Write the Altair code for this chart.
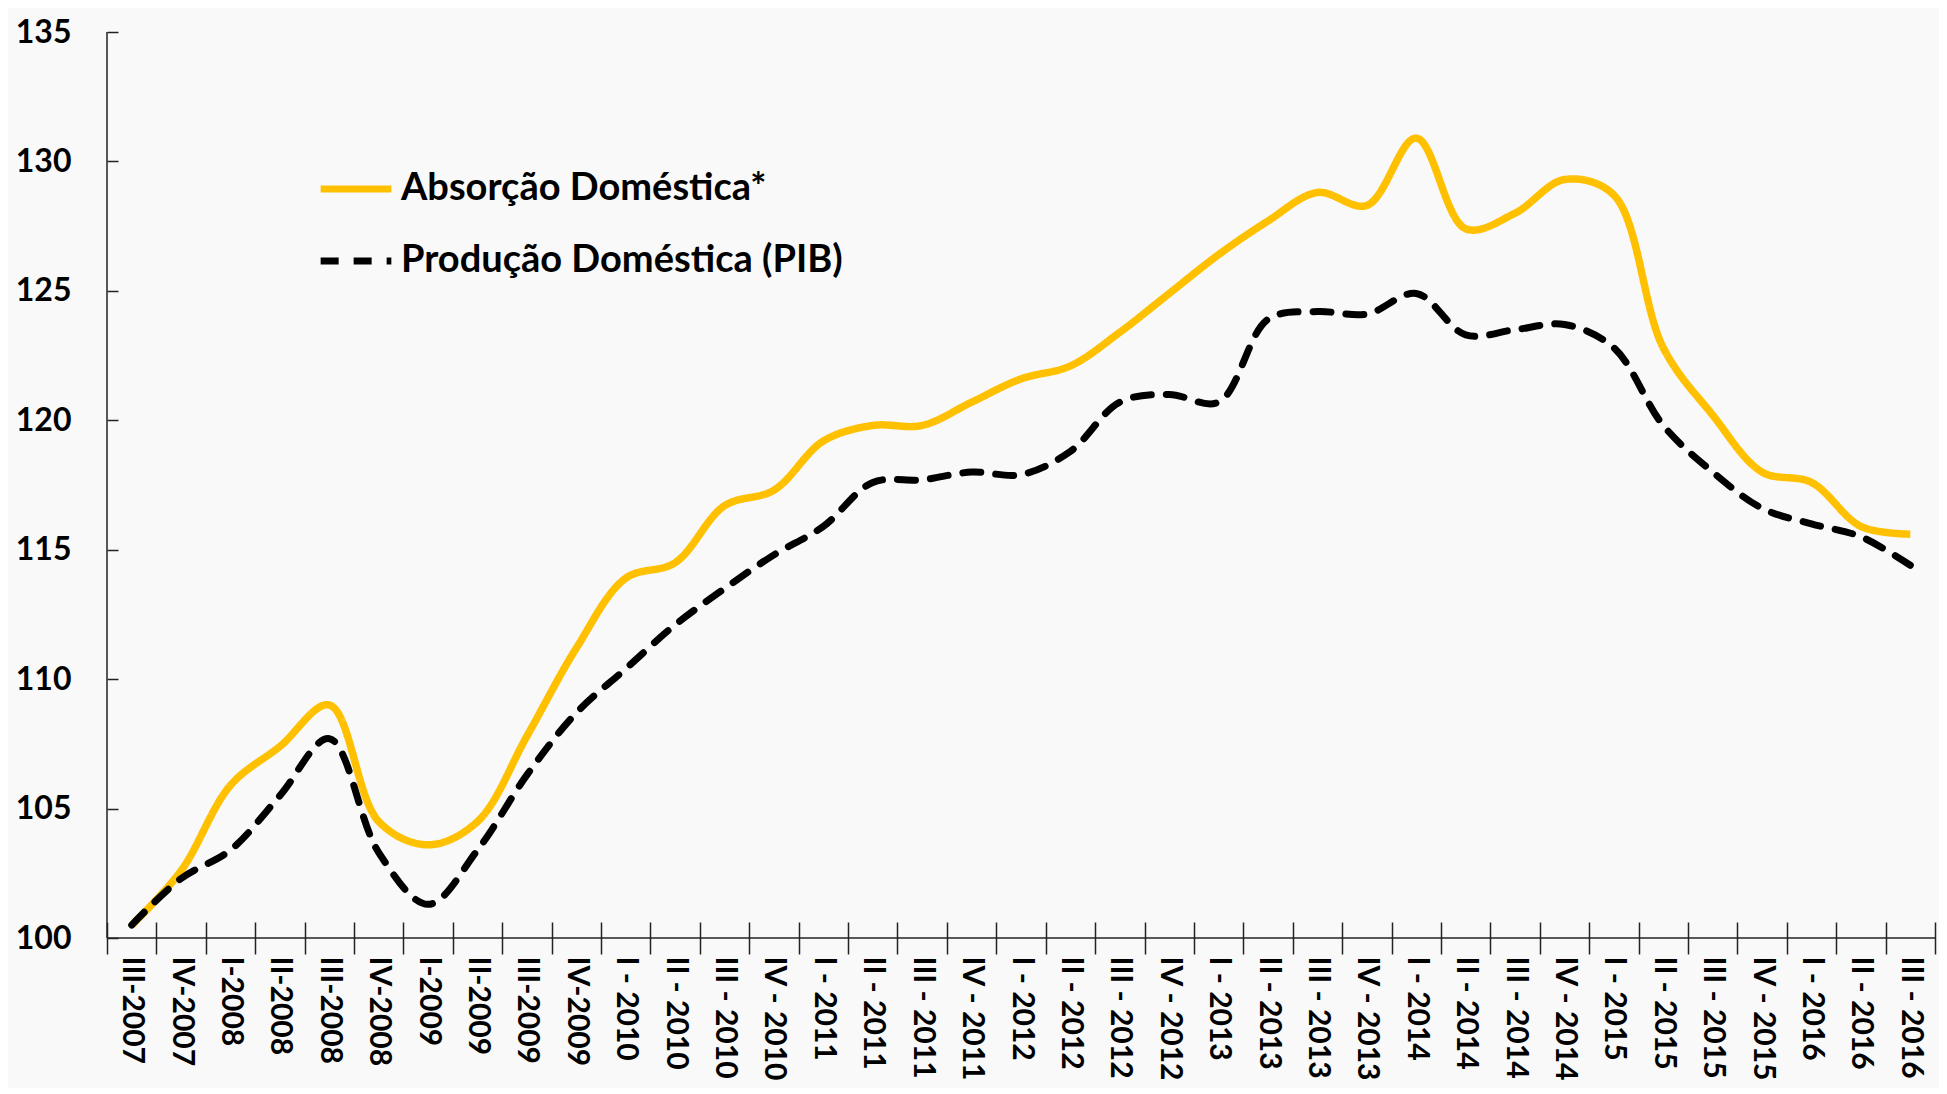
import altair as alt
import pandas as pd

cats = ["III-2007", "IV-2007", "I-2008", "II-2008", "III-2008", "IV-2008",
        "I-2009", "II-2009", "III-2009", "IV-2009",
        "I - 2010", "II - 2010", "III - 2010", "IV - 2010",
        "I - 2011", "II - 2011", "III - 2011", "IV - 2011",
        "I - 2012", "II - 2012", "III - 2012", "IV - 2012",
        "I - 2013", "II - 2013", "III - 2013", "IV - 2013",
        "I - 2014", "II - 2014", "III - 2014", "IV - 2014",
        "I - 2015", "II - 2015", "III - 2015", "IV - 2015",
        "I - 2016", "II - 2016", "III - 2016"]

absorcao = [100.5, 102.6, 105.9, 107.4, 109.0, 104.5, 103.6, 104.5, 107.8, 111.2,
            113.9, 114.5, 116.7, 117.3, 119.2, 119.8, 119.8, 120.7, 121.6, 122.1,
            123.4, 124.9, 126.4, 127.7, 128.8, 128.3, 130.9, 127.4, 128.0, 129.3,
            128.7, 122.8, 120.2, 118.0, 117.6, 115.9, 115.6]

pib = [100.5, 102.3, 103.4, 105.5, 107.7, 103.3, 101.3, 103.4, 106.3, 108.7,
       110.4, 112.1, 113.5, 114.8, 115.9, 117.6, 117.7, 118.0, 117.9, 118.8,
       120.7, 121.0, 120.7, 123.9, 124.2, 124.1, 124.9, 123.3, 123.5, 123.7,
       122.8, 119.8, 118.0, 116.6, 116.0, 115.5, 114.4]

series_names = ["Absorção Doméstica*", "Produção Doméstica (PIB)"]
y_ticks = [100, 105, 110, 115, 120, 125, 130, 135]

rows = []
for c, a, p in zip(cats, absorcao, pib):
    rows.append({"cat": c, "val": a, "serie": series_names[0]})
    rows.append({"cat": c, "val": p, "serie": series_names[1]})
df = pd.DataFrame(rows)

FONT = "Lato"

x_enc = alt.X("cat:N", sort=cats, bandPosition=0.5,
              scale=alt.Scale(type="band", paddingInner=0, paddingOuter=0),
              axis=alt.Axis(title=None, labelAngle=90, labelFont=FONT, labelFontSize=30,
                            labelFontWeight="bold", labelColor="black", domain=False,
                            ticks=True, tickBand="extent", tickSize=32, offset=-16,
                            tickColor="#222", tickWidth=1.5, labelPadding=2,
                            labelOverlap=False, grid=False))
y_enc = alt.Y("val:Q", scale=alt.Scale(domain=[100, 135], nice=False, zero=False),
              axis=alt.Axis(title=None, values=y_ticks, labelFont=FONT, labelFontSize=32,
                            labelFontWeight="bold", labelColor="black", domain=False,
                            tickSize=11, offset=-11, tickColor="#222", tickWidth=1.5,
                            labelPadding=36, grid=False))
legend_cfg = dict(title=None, orient="none", legendX=210, legendY=118,
                  symbolType="stroke", symbolSize=5000, symbolStrokeWidth=7,
                  labelFont=FONT, labelFontSize=38, labelFontWeight="bold",
                  labelColor="black", labelOffset=6, rowPadding=14, labelLimit=700)
color_enc = alt.Color("serie:N", scale=alt.Scale(domain=series_names, range=["#FFC000", "#000000"]),
                      legend=alt.Legend(**legend_cfg))
dash_enc = alt.StrokeDash("serie:N", scale=alt.Scale(domain=series_names, range=[[1, 0], [18, 15]]),
                          legend=alt.Legend(**legend_cfg))

base = alt.Chart(df).encode(x=x_enc, y=y_enc, color=color_enc, strokeDash=dash_enc)

line_a = base.transform_filter(alt.datum.serie == series_names[0]).mark_line(
    interpolate="catmull-rom", strokeWidth=7.5)
line_b = base.transform_filter(alt.datum.serie == series_names[1]).mark_line(
    interpolate="catmull-rom", strokeWidth=7, strokeCap="round")

x_line = alt.Chart(pd.DataFrame({"v": [100]})).mark_rule(color="#222", strokeWidth=1.5).encode(
    y=alt.datum(100))
y_line = alt.Chart(pd.DataFrame({"v": [100]})).mark_rule(color="#222", strokeWidth=1.5).encode(
    x=alt.value(0), y=alt.datum(135), y2=alt.datum(100))

chart = alt.layer(x_line, y_line, line_a, line_b).properties(
    width=1828, height=906,
    autosize=alt.AutoSizeParams(type="none"),
    padding={"left": 99, "top": 24, "right": 4, "bottom": 150},
    background="#f9f9f9",
).configure_view(stroke=None)

chart.save("out.html", embed_options={"renderer": "svg", "actions": False})
